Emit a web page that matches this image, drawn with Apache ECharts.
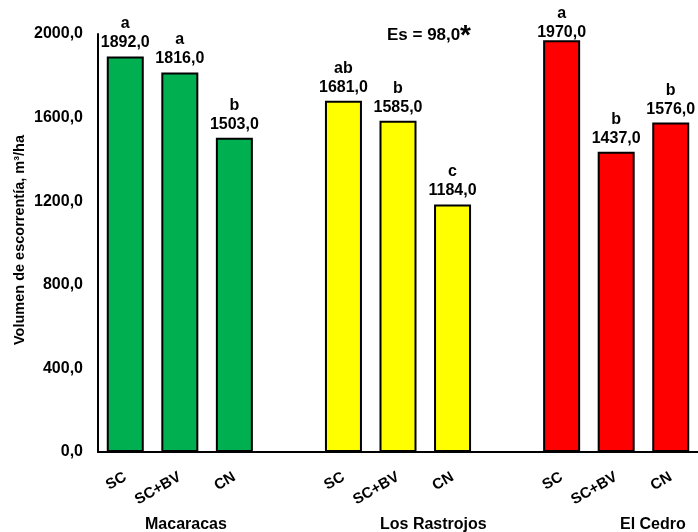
<!DOCTYPE html>
<html>
<head>
<meta charset="utf-8">
<script src="https://cdn.jsdelivr.net/npm/echarts@6/dist/echarts.min.js"></script>
<style>
  html, body { margin: 0; padding: 0; background: #fff; }
  #chart { width: 698px; height: 532px; }
</style>
</head>
<body>
<div id="chart"></div>
<script>
// Runoff volume (m³/ha) by site and soil treatment
const sites = ['Macaracas', 'Los Rastrojos', 'El Cedro'];
const treatments = ['SC', 'SC+BV', 'CN'];
const macaracas = [1892.0, 1816.0, 1503.0];
const rastrojos = [1681.0, 1585.0, 1184.0];
const cedro = [1970.0, 1437.0, 1576.0];
const lettersMacaracas = ['a', 'a', 'b'];
const lettersRastrojos = ['ab', 'b', 'c'];
const lettersCedro = ['a', 'b', 'b'];
const siteColors = ['#00B050', '#FFFF00', '#FF0000'];
const yTicks = [0, 400, 800, 1200, 1600, 2000];
const yTitle = 'Volumen de escorrentía, m³/ha';
const esText = 'Es = 98,0';

const groups = [
  { values: macaracas, letters: lettersMacaracas },
  { values: rastrojos, letters: lettersRastrojos },
  { values: cedro, letters: lettersCedro }
];

// one category slot per bar, with an empty slot between sites
const categories = [];
const barData = [];
groups.forEach((g, gi) => {
  if (gi > 0) { categories.push(''); barData.push(null); }
  g.values.forEach((v, i) => {
    categories.push(treatments[i]);
    barData.push({
      value: v,
      letter: g.letters[i],
      itemStyle: { color: siteColors[gi] }
    });
  });
});

const fmt = v => v.toFixed(1).replace('.', ',');
const FONT = 'Liberation Sans, Arial, sans-serif';
const LABEL_TOP_LIMIT = 4; // keep bar labels inside the canvas

const chart = echarts.init(document.getElementById('chart'), null, { renderer: 'canvas' });
chart.setOption({
  animation: false,
  backgroundColor: '#ffffff',
  textStyle: { fontFamily: FONT },
  grid: { left: 98, top: 34, width: 601, height: 418, containLabel: false },
  xAxis: {
    type: 'category',
    data: categories,
    axisLine: { lineStyle: { color: '#000', width: 2 } },
    axisTick: { show: false },
    axisLabel: {
      interval: 0, rotate: 30, margin: 24,
      color: '#000', fontWeight: 'bold', fontSize: 15, fontFamily: FONT
    }
  },
  yAxis: {
    type: 'value',
    min: yTicks[0],
    max: yTicks[yTicks.length - 1],
    interval: yTicks[1] - yTicks[0],
    axisLine: { show: true, lineStyle: { color: '#000', width: 2 } },
    axisTick: { show: false },
    splitLine: { show: false },
    axisLabel: {
      margin: 15, color: '#000', fontWeight: 'bold', fontSize: 16, fontFamily: FONT,
      formatter: fmt
    }
  },
  series: [{
    type: 'bar',
    data: barData,
    barWidth: 37,
    itemStyle: { borderColor: '#000', borderWidth: 2 },
    label: {
      show: true,
      position: 'top',
      distance: 4,
      align: 'center',
      formatter: p => '{l|' + p.data.letter + '}\n{v|' + fmt(p.data.value) + '}',
      rich: {
        l: { color: '#000', fontWeight: 'bold', fontSize: 16, lineHeight: 19, fontFamily: FONT, align: 'center' },
        v: { color: '#000', fontWeight: 'bold', fontSize: 16, lineHeight: 19, fontFamily: FONT, align: 'center' }
      }
    },
    labelLayout: function (params) {
      const r = params.labelRect;
      if (r.y < LABEL_TOP_LIMIT) {
        return { y: LABEL_TOP_LIMIT, verticalAlign: 'top' };
      }
      return {};
    }
  }],
  graphic: [
    { type: 'text', x: 20, y: 240, rotation: Math.PI / 2,
      style: { text: yTitle, fill: '#000', font: 'bold 14.5px ' + FONT,
               textAlign: 'center', textVerticalAlign: 'middle', align: 'center', verticalAlign: 'middle' } },
    { type: 'text', left: 145, top: 517,
      style: { text: sites[0], fill: '#000', font: 'bold 16px ' + FONT } },
    { type: 'text', left: 380, top: 517,
      style: { text: sites[1], fill: '#000', font: 'bold 16px ' + FONT } },
    { type: 'text', left: 620, top: 517,
      style: { text: sites[2], fill: '#000', font: 'bold 16px ' + FONT } },
    { type: 'text', left: 387, top: 27,
      style: { text: esText, fill: '#000', font: 'bold 17px ' + FONT } },
    { type: 'text', left: 460, top: 22,
      style: { text: '*', fill: '#000', font: 'bold 28px ' + FONT } }
  ]
});
</script>
</body>
</html>
